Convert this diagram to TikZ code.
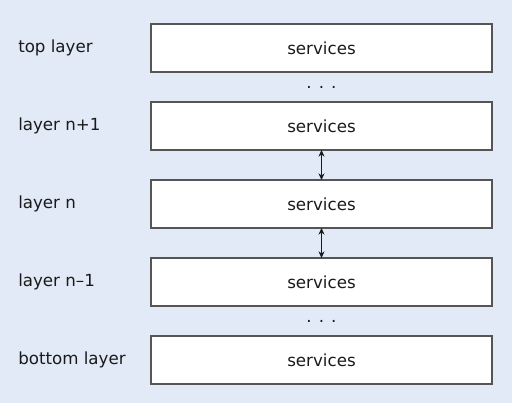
\documentclass[tikz,border=0pt]{standalone}
\usepackage{fontspec}
\setmainfont{DejaVu Sans}
\usetikzlibrary{arrows.meta,positioning,calc}
\definecolor{bg}{HTML}{E1EAF6}
\definecolor{ink}{HTML}{1A1A1A}
\definecolor{frame}{HTML}{555555}
\tikzset{
  >={Stealth[length=5pt,width=4.5pt]},
  every node/.style={font=\fontsize{12.5}{14}\selectfont,text=ink},
  svcbox/.style={draw=frame,line width=1pt,fill=white,minimum width=255.75pt,minimum height=36pt,inner sep=0pt,outer sep=0pt},
  lbl/.style={anchor=west,inner sep=0pt},
  dots/.style={inner sep=0pt},
  link/.style={<->,semithick,draw=ink},
}
\begin{document}
\begin{tikzpicture}[x=0.75pt,y=-0.75pt,node distance=22.5pt]
\fill[bg] (0,0) rectangle (512,403);
\useasboundingbox (0,0) rectangle (512,403);

% service boxes
\node[svcbox] (top) at (321.5,48) {services};
\node[svcbox,below=of top] (up) {services};
\node[svcbox,below=of up] (mid) {services};
\node[svcbox,below=of mid] (low) {services};
\node[svcbox,below=of low] (bot) {services};

% layer names
\coordinate (m) at (18,0);
\node[lbl] (ltop) at (top.west -| m) {top layer};
\node[lbl] (lup) at (up.west -| m) {layer n+1};
\node[lbl] (lmid) at (mid.west -| m) {layer n};
\node[lbl] (llow) at (low.west -| m) {layer n–1};
\node[lbl] (lbot) at (bot.west -| m) {bottom layer};

% gaps
\node[dots] (d1) at ($(top.south)!0.5!(up.north)$) {. . .};
\node[dots] (d2) at ($(low.south)!0.5!(bot.north)$) {. . .};
\draw[link] (up.south) -- (mid.north);
\draw[link] (mid.south) -- (low.north);

\end{tikzpicture}
\end{document}
